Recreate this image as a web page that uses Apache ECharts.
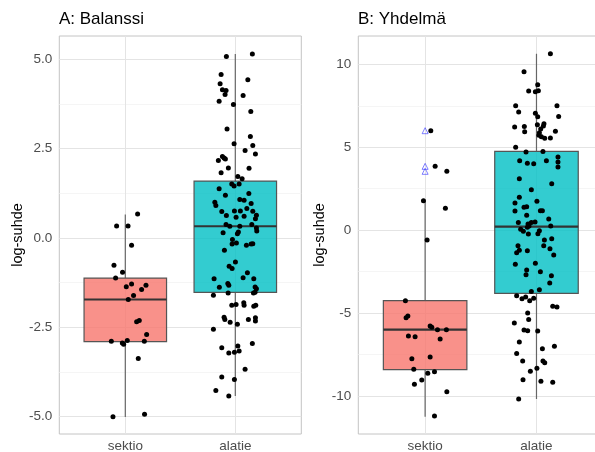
<!DOCTYPE html>
<html><head><meta charset="utf-8">
<script src="https://cdn.jsdelivr.net/npm/echarts@6/dist/echarts.min.js"></script>
<style>html,body{margin:0;padding:0;background:#fff}#c{width:595px;height:452px}</style>
</head><body><div id="c"></div>
<script>
const categories = ['sektio', 'alatie'];
const panelTitles = ['A: Balanssi', 'B: Yhdelmä'];
const yName = 'log-suhde';
const yTicksA = [-5, -2.5, 0, 2.5, 5];
const yMinorA = [-3.75, -1.25, 1.25, 3.75];
const yTicksB = [-10, -5, 0, 5, 10];
const yMinorB = [-7.5, -2.5, 2.5, 7.5];

// box stats: [min, q1, median, q3, max]
const boxA_sektio = [-5.01, -2.90, -1.72, -1.12, 0.66];
const boxA_alatie = [-4.42, -1.52, 0.33, 1.595, 5.15];
const boxB_sektio = [-11.25, -8.41, -6.00, -4.25, 1.76];
const boxB_alatie = [-10.18, -3.81, 0.21, 4.75, 10.64];
const outliersB_sektio = [6.00, 3.85, 3.55];

const valsA_sektio = [0.67,0.34,0.34,-0.20,-0.76,-0.96,-1.12,-1.36,-1.29,-1.32,-1.44,-1.61,-1.72,-2.34,-2.31,-2.70,-2.89,-2.94,-2.97,-2.87,-2.89,-3.37,-5.00,-4.93];
const jitA_sektio = [0.112,-0.079,0.025,0.057,-0.103,-0.025,-0.088,0.009,0.057,0.188,0.148,0.075,0.027,0.103,0.127,0.194,-0.127,-0.027,-0.015,0.018,0.173,0.118,-0.112,0.175];

const valsA_alatie = [5.08,5.15,4.58,4.43,4.32,4.15,4.13,4.02,3.99,3.83,
3.74,3.54,3.05,2.84,2.64,2.59,2.45,2.35,2.28,2.24,
2.21,2.17,1.96,1.95,1.83,1.72,1.66,1.51,1.46,1.51,
1.38,1.25,1.20,1.08,1.06,1.00,0.91,0.97,0.83,0.74,
0.76,0.76,0.75,0.63,0.58,0.61,0.64,0.54,0.38,0.33,
0.33,0.38,0.28,0.20,0.15,0.17,0.12,-0.04,-0.17,-0.14,
-0.20,-0.17,-0.16,-0.34,-0.67,-0.79,-0.85,-0.97,-1.11,-1.14,
-1.14,-1.27,-1.38,-1.32,-1.37,-1.42,-1.54,-1.52,-1.54,-1.60,
-1.88,-1.86,-1.81,-1.88,-1.91,-1.88,-2.22,-2.28,-2.36,-2.41,
-2.28,-2.23,-2.32,-2.55,-3.07,-3.02,-3.16,-3.22,-3.20,-2.95,
-3.67,-3.89,-3.96,-4.27,-4.42];
const jitA_alatie = [-0.081,0.155,-0.129,0.114,-0.138,-0.117,-0.084,-0.093,0.071,-0.147,
-0.017,0.141,-0.075,0.137,-0.011,0.159,0.089,0.183,-0.117,-0.102,
-0.09,-0.154,-0.063,0.125,-0.129,0.023,0.062,-0.032,-0.011,0.035,
-0.147,0.123,-0.09,0.041,0.08,-0.186,-0.177,0.144,0.105,-0.123,
-0.008,0.046,0.159,-0.081,0.007,0.08,0.192,0.183,-0.084,-0.05,
0.041,0.15,0.192,0.195,-0.111,0.028,0.019,-0.026,-0.029,0.01,
0.101,0.144,0.159,-0.099,0.001,-0.056,-0.029,0.11,0.071,0.168,
-0.193,-0.068,-0.145,-0.059,0.18,0.192,0.165,0.18,-0.065,-0.199,
-0.032,0.007,0.077,0.08,0.168,0.186,-0.102,-0.095,-0.047,0.019,
0.119,0.183,0.183,-0.199,-0.123,0.023,0.035,-0.059,-0.008,0.155,
0.089,-0.123,-0.008,-0.177,-0.059];

const valsB_sektio = [6.00,3.85,3.55,1.78,1.32,-0.59,-4.25,-5.18,-5.28,-5.78,-5.86,-6.00,-6.00,-6.38,-6.42,-6.56,-7.75,-7.65,-8.39,-8.63,-8.54,-9.04,-9.29,-9.74,-11.21];
const jitB_sektio = [0.051,0.09,0.195,-0.015,0.182,0.018,-0.177,-0.155,-0.171,0.045,0.06,0.111,0.191,-0.15,-0.09,0.135,-0.119,0.045,-0.102,0.024,0.084,-0.03,-0.096,0.195,0.084];

const valsB_alatie = [10.64,9.55,8.77,8.39,8.35,8.41,7.50,7.50,7.12,7.05,
6.84,6.86,6.22,6.26,5.94,6.36,6.42,6.28,6.10,5.88,
5.96,5.72,5.63,5.54,5.56,5.00,4.71,4.75,4.19,4.03,
4.01,4.19,4.41,4.11,3.81,3.10,2.80,2.44,1.98,1.74,
1.64,1.38,1.41,1.15,1.17,1.17,0.90,0.67,0.47,0.47,
0.49,0.37,0.25,0.17,0.25,0.05,-0.07,-0.23,-0.21,-0.03,
-0.59,-0.52,-0.94,-1.12,-0.94,-1.21,-1.36,-1.24,-1.50,-2.06,
-2.00,-2.40,-2.69,-2.51,-2.75,-3.19,-3.59,-3.69,-3.95,-4.13,
-4.03,-4.25,-4.11,-4.59,-4.63,-5.00,-5.38,-5.60,-6.02,-6.06,
-6.08,-6.74,-7.00,-7.15,-7.43,-7.89,-7.89,-7.99,-8.33,-8.51,
-9.02,-9.11,-9.17,-10.18];
const jitB_alatie = [0.125,-0.112,0.011,-0.07,-0.01,0.017,-0.187,0.184,-0.16,-0.01,
0.011,0.199,-0.196,-0.109,-0.106,0.008,0.067,0.062,0.038,0.026,
0.17,0.022,0.044,0.074,0.125,-0.187,-0.094,0.058,-0.151,-0.082,
-0.025,0.089,0.193,0.193,0.193,-0.154,0.137,-0.046,-0.154,0.004,
-0.193,-0.112,-0.088,-0.193,0.035,0.053,-0.088,0.11,-0.163,-0.046,
-0.013,-0.076,-0.067,-0.082,0.128,-0.142,-0.118,-0.073,0.013,0.026,
0.071,0.137,0.065,0.121,-0.166,-0.154,-0.178,-0.082,0.155,-0.19,
-0.01,-0.088,-0.094,0.035,0.134,0.119,0.026,-0.046,-0.178,-0.13,
-0.097,-0.061,-0.025,0.146,0.184,-0.079,-0.07,-0.199,-0.112,-0.079,
0.011,-0.154,0.161,0.053,-0.178,-0.124,0.058,0.074,0.004,-0.055,
-0.121,0.04,0.146,-0.16];

const FONT = '"Liberation Sans", Arial, Helvetica, sans-serif';
const fills = ['rgba(248,118,109,0.8)', 'rgba(0,191,196,0.8)'];

function pts(pos, vals, jit) { return vals.map((v, i) => [pos + jit[i], v]); }

function boxRender(params, api) {
  const x = api.value(0);
  const lo = api.coord([x, api.value(1)]);
  const q1 = api.coord([x, api.value(2)]);
  const md = api.coord([x, api.value(3)]);
  const q3 = api.coord([x, api.value(4)]);
  const hi = api.coord([x, api.value(5)]);
  const w = api.size([0.75, 0])[0];
  const fill = fills[Math.round(x) - 1];
  const wh = { stroke: '#666', lineWidth: 1.2 };
  return { type: 'group', children: [
    { type: 'line', shape: { x1: lo[0], y1: lo[1], x2: q1[0], y2: q1[1] }, style: wh },
    { type: 'line', shape: { x1: q3[0], y1: q3[1], x2: hi[0], y2: hi[1] }, style: wh },
    { type: 'rect', shape: { x: md[0] - w / 2, y: q3[1], width: w, height: q1[1] - q3[1] },
      style: { fill: fill, stroke: '#555', lineWidth: 1.2 } },
    { type: 'line', shape: { x1: md[0] - w / 2, y1: md[1], x2: md[0] + w / 2, y2: md[1] },
      style: { stroke: '#333', lineWidth: 2.2 } }
  ]};
}

function gridLines(idx, major, minor) {
  const data = [];
  minor.forEach(v => data.push({ yAxis: v, lineStyle: { color: '#f3f3f3', width: 0.8 } }));
  major.forEach(v => data.push({ yAxis: v, lineStyle: { color: '#e4e4e4', width: 1 } }));
  [1, 2].forEach(v => data.push({ xAxis: v, lineStyle: { color: '#e4e4e4', width: 1 } }));
  return { type: 'scatter', xAxisIndex: idx, yAxisIndex: idx, data: [], z: 0, silent: true,
    markLine: { silent: true, z: 0, zlevel: 0, symbol: ['none', 'none'], label: { show: false },
      lineStyle: { type: 'solid' }, animation: false, data: data } };
}

function xAxisDef(idx) {
  return { type: 'value', gridIndex: idx, min: 0.4, max: 2.6,
    axisLine: { show: false }, axisTick: { show: false }, splitLine: { show: false },
    axisLabel: { customValues: [1, 2], formatter: v => categories[Math.round(v) - 1],
      color: '#4d4d4d', fontSize: 13.5, fontFamily: FONT, margin: 5 } };
}
function yAxisDef(idx, min, max, ticks, dec, gap) {
  return { type: 'value', gridIndex: idx, min: min, max: max,
    name: yName, nameLocation: 'middle', nameRotate: 90, nameGap: gap,
    nameTextStyle: { color: '#000', fontSize: 14.5, fontFamily: FONT },
    axisLine: { show: false }, axisTick: { show: false }, splitLine: { show: false },
    axisLabel: { customValues: ticks, formatter: v => v.toFixed(dec),
      color: '#4d4d4d', fontSize: 13.5, fontFamily: FONT, margin: 7 } };
}

const chart = echarts.init(document.getElementById('c'), null, { renderer: 'canvas' });
chart.setOption({
  animation: false,
  backgroundColor: '#fff',
  title: [
    { text: panelTitles[0], left: 59, top: 11, padding: 0, textStyle: { fontSize: 17, fontWeight: 'normal', color: '#000', fontFamily: FONT } },
    { text: panelTitles[1], left: 358, top: 11, padding: 0, textStyle: { fontSize: 17, fontWeight: 'normal', color: '#000', fontFamily: FONT } }
  ],
  grid: [
    { left: 59.3, top: 36, width: 242, height: 398, show: true, borderColor: '#c4c4c4', borderWidth: 1, backgroundColor: 'transparent', outerBoundsMode: 'none', containLabel: false },
    { left: 358.3, top: 36, width: 245, height: 398, show: true, borderColor: '#c4c4c4', borderWidth: 1, backgroundColor: 'transparent', outerBoundsMode: 'none', containLabel: false }
  ],
  xAxis: [xAxisDef(0), xAxisDef(1)],
  yAxis: [yAxisDef(0, -5.485, 5.655, yTicksA, 1, 32), yAxisDef(1, -12.29, 11.71, yTicksB, 0, 26)],
  series: [
    gridLines(0, yTicksA, yMinorA),
    gridLines(1, yTicksB, yMinorB),
    { type: 'custom', xAxisIndex: 0, yAxisIndex: 0, z: 2, renderItem: boxRender,
      data: [[1].concat(boxA_sektio), [2].concat(boxA_alatie)] },
    { type: 'custom', xAxisIndex: 1, yAxisIndex: 1, z: 2, renderItem: boxRender,
      data: [[1].concat(boxB_sektio), [2].concat(boxB_alatie)] },
    { type: 'scatter', xAxisIndex: 1, yAxisIndex: 1, z: 3, symbol: 'triangle', symbolSize: 6,
      itemStyle: { color: 'rgba(0,0,0,0)', borderColor: 'rgba(60,60,255,0.65)', borderWidth: 1, opacity: 1 },
      data: outliersB_sektio.map(v => [1, v]) },
    { type: 'scatter', xAxisIndex: 0, yAxisIndex: 0, z: 4, symbolSize: 5, itemStyle: { color: '#000', opacity: 1 },
      data: pts(1, valsA_sektio, jitA_sektio).concat(pts(2, valsA_alatie, jitA_alatie)) },
    { type: 'scatter', xAxisIndex: 1, yAxisIndex: 1, z: 4, symbolSize: 5, itemStyle: { color: '#000', opacity: 1 },
      data: pts(1, valsB_sektio, jitB_sektio).concat(pts(2, valsB_alatie, jitB_alatie)) }
  ]
});
</script></body></html>
